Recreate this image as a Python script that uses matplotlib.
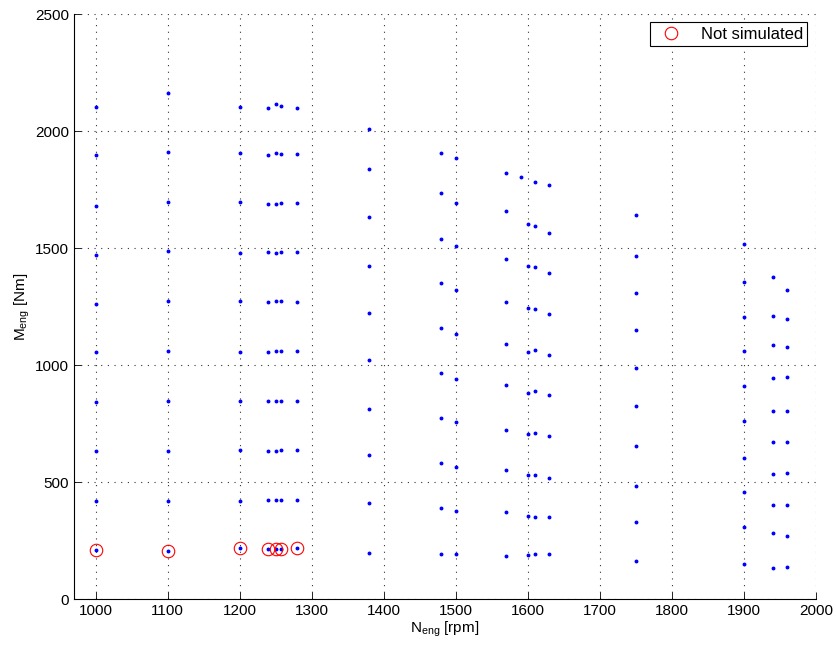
import matplotlib
matplotlib.use("Agg")
import matplotlib.pyplot as plt

plt.rcParams['font.family'] = ['Liberation Sans', 'DejaVu Sans']
plt.rcParams['mathtext.fontset'] = 'custom'
plt.rcParams['mathtext.rm'] = 'Liberation Sans'
plt.rcParams['mathtext.it'] = 'Liberation Sans'

# -----------------------
# Datos
# -----------------------
speeds = [1000, 1100, 1200, 1240, 1250, 1257, 1280, 1380, 1480, 1500,
          1570, 1590, 1600, 1610, 1630, 1750, 1900, 1940, 1960]

m_1000 = [2104, 1897, 1679, 1472, 1261, 1058, 842, 633, 420, 210]
m_1100 = [2161, 1913, 1698, 1488, 1272, 1060, 846, 632, 419, 206]
m_1200 = [2104, 1907, 1697, 1479, 1272, 1056, 846, 635, 417, 216]
m_1240 = [2097, 1897, 1689, 1483, 1268, 1057, 846, 634, 423, 212]
m_1250 = [2114, 1906, 1689, 1479, 1272, 1060, 846, 632, 422, 215]
m_1257 = [2107, 1902, 1695, 1482, 1272, 1060, 845, 637, 422, 212]
m_1280 = [2100, 1903, 1691, 1482, 1268, 1060, 845, 638, 424, 218]
m_1380 = [2010, 1838, 1631, 1424, 1222, 1021, 813, 615, 412, 197]
m_1480 = [1907, 1735, 1540, 1352, 1158, 967, 774, 580, 389, 194]
m_1500 = [1886, 1691, 1509, 1319, 1132, 939, 756, 564, 376, 194]
m_1570 = [1821, 1658, 1453, 1269, 1090, 916, 722, 553, 371, 182]
m_1590 = [1803]
m_1600 = [1603, 1424, 1246, 1057, 882, 706, 530, 355, 188]
m_1610 = [1783, 1595, 1420, 1239, 1066, 889, 708, 530, 352, 192]
m_1630 = [1771, 1564, 1395, 1218, 1041, 870, 698, 518, 349, 194]
m_1750 = [1641, 1466, 1308, 1150, 986, 825, 654, 484, 330, 161]
m_1900 = [1516, 1355, 1204, 1060, 909, 761, 604, 457, 306, 150]
m_1940 = [1376, 1209, 1084, 943, 805, 672, 533, 403, 281, 134]
m_1960 = [1322, 1198, 1076, 949, 805, 672, 537, 402, 269, 137]

torques = [m_1000, m_1100, m_1200, m_1240, m_1250, m_1257, m_1280, m_1380,
           m_1480, m_1500, m_1570, m_1590, m_1600, m_1610, m_1630, m_1750,
           m_1900, m_1940, m_1960]

# puntos no simulados
ns_speed = [1000, 1100, 1200, 1240, 1250, 1257, 1280]
ns_torque = [210, 206, 216, 212, 215, 212, 218]

# -----------------------
# Grafico
# -----------------------
n_eng = []
m_eng = []
for n, ms in zip(speeds, torques):
    n_eng += [n] * len(ms)
    m_eng += ms

fig = plt.figure(figsize=(8.36, 6.45), dpi=100)
ax = fig.add_axes([0.0885, 0.0713, 0.8875, 0.9067])

ax.plot(n_eng, m_eng, '.', color='#0000ff', markersize=3.6, zorder=3)
ax.plot(ns_speed, ns_torque, 'o', markerfacecolor='none', markeredgecolor='#ff0000',
        markersize=9, markeredgewidth=0.8, label='Not simulated', zorder=4)

ax.set_xlim(970, 2000)
ax.set_ylim(0, 2500)
ax.set_xticks(range(1000, 2001, 100))
ax.set_yticks(range(0, 2501, 500))
ax.tick_params(direction='in', length=5, labelsize=11, width=0.6)
ax.grid(True, linestyle=(0, (1, 5)), color='#333333', linewidth=0.8)
ax.spines['top'].set_visible(False)
ax.spines['right'].set_visible(False)

ax.set_xlabel('N$_{eng}$ [rpm]', fontsize=11, labelpad=1)
ax.set_ylabel('M$_{eng}$ [Nm]', fontsize=11, labelpad=2)

leg = ax.legend(loc='upper right', fontsize=12, fancybox=False, framealpha=1,
                edgecolor='black', borderpad=0.25, handlelength=2.1,
                handletextpad=0.7, borderaxespad=0, bbox_to_anchor=(0.988, 0.986))
leg.get_frame().set_linewidth(0.8)

fig.savefig('out.png', dpi=100)
